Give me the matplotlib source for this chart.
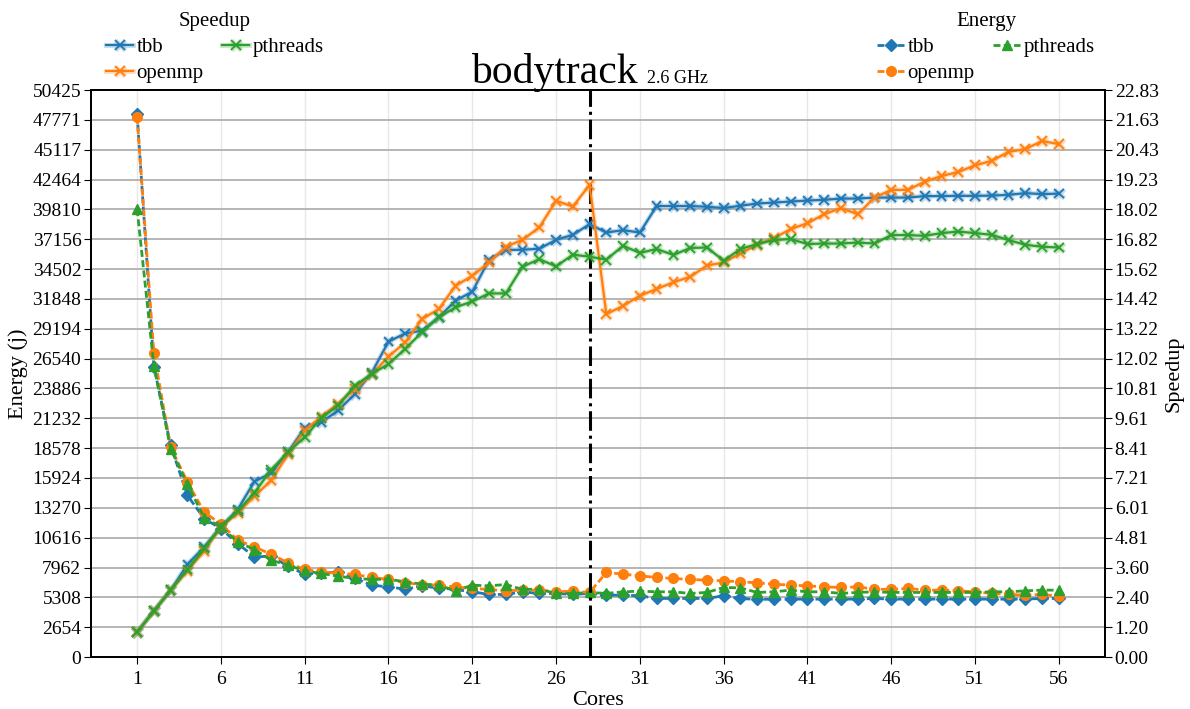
import numpy as np
import matplotlib
matplotlib.use("Agg")
import matplotlib.pyplot as plt
import matplotlib.patheffects as pe
from matplotlib.ticker import FixedLocator, FixedFormatter

plt.rcParams["font.family"] = ["Liberation Serif", "DejaVu Serif"]

cores = np.arange(1, 57)

# speedup per runtime (right axis)
speedup_tbb = [1.00, 1.87, 2.69, 3.73, 4.43, 5.24, 5.94, 7.07, 7.41, 8.25,
               9.23, 9.46, 9.93, 10.60, 11.45, 12.70, 13.03, 13.14, 13.68, 14.35,
               14.71, 16.00, 16.39, 16.40, 16.44, 16.80, 17.00, 17.43, 17.09, 17.19,
               17.09, 18.16, 18.16, 18.16, 18.13, 18.08, 18.17, 18.26, 18.30, 18.34,
               18.38, 18.41, 18.46, 18.46, 18.50, 18.50, 18.50, 18.56, 18.56, 18.57,
               18.57, 18.58, 18.61, 18.68, 18.64, 18.66]
speedup_openmp = [1.00, 1.85, 2.69, 3.47, 4.27, 5.24, 5.80, 6.48, 7.11, 8.16,
                  9.12, 9.69, 10.20, 10.80, 11.38, 12.10, 12.67, 13.61, 14.01, 14.95,
                  15.35, 15.89, 16.52, 16.80, 17.30, 18.37, 18.14, 19.01, 13.81, 14.14,
                  14.55, 14.82, 15.09, 15.31, 15.76, 15.89, 16.25, 16.60, 16.87, 17.23,
                  17.47, 17.83, 18.08, 17.83, 18.50, 18.81, 18.81, 19.14, 19.37, 19.53,
                  19.80, 19.98, 20.34, 20.45, 20.78, 20.65]
speedup_pthreads = [1.00, 1.85, 2.69, 3.52, 4.37, 5.24, 5.87, 6.62, 7.54, 8.25,
                    8.85, 9.63, 10.13, 10.93, 11.40, 11.80, 12.41, 13.08, 13.68, 14.08,
                    14.32, 14.64, 14.64, 15.72, 16.02, 15.73, 16.20, 16.12, 16.00, 16.56,
                    16.27, 16.43, 16.19, 16.47, 16.49, 15.96, 16.43, 16.63, 16.79, 16.83,
                    16.63, 16.65, 16.65, 16.69, 16.65, 16.99, 16.99, 16.96, 17.07, 17.13,
                    17.07, 17.00, 16.79, 16.60, 16.52, 16.49]

# energy per runtime in joules (left axis)
energy_tbb = [48270, 25835, 18820, 14380, 12310, 11425, 10095, 8905, 8970, 8080,
              7370, 7485, 7520, 6985, 6390, 6240, 6035, 6305, 6150, 6010,
              5800, 5565, 5565, 5800, 5655, 5655, 5565, 5655, 5505, 5505,
              5445, 5210, 5210, 5210, 5210, 5445, 5210, 5120, 5150, 5150,
              5150, 5150, 5150, 5150, 5210, 5150, 5150, 5150, 5150, 5150,
              5150, 5150, 5150, 5150, 5210, 5210]
energy_openmp = [48030, 27015, 18670, 15565, 12900, 11810, 10390, 9790, 9145, 8375,
                 7785, 7575, 7430, 7340, 7075, 6900, 6600, 6450, 6390, 6240,
                 6100, 6010, 5890, 5950, 5950, 5800, 5860, 5745, 7520, 7370,
                 7220, 7075, 6985, 6900, 6835, 6775, 6690, 6600, 6480, 6390,
                 6330, 6240, 6185, 6240, 6035, 6010, 6100, 5950, 5950, 5890,
                 5800, 5655, 5565, 5505, 5565, 5415]
energy_pthreads = [39835, 25925, 18530, 15360, 12400, 11570, 10240, 9560, 8610, 8170,
                   7660, 7430, 7190, 6985, 6900, 6925, 6690, 6480, 6390, 5890,
                   6390, 6330, 6450, 6010, 6035, 5655, 5655, 5745, 5655, 5800,
                   5860, 5800, 5800, 5655, 5745, 6185, 6150, 5745, 5800, 5950,
                   5800, 5800, 5655, 5745, 5800, 5745, 5745, 5745, 5745, 5745,
                   5745, 5800, 5800, 5890, 5950, 5950]

energy_ticklabels = ["0", "2654", "5308", "7962", "10616", "13270", "15924",
                     "18578", "21232", "23886", "26540", "29194", "31848",
                     "34502", "37156", "39810", "42464", "45117", "47771", "50425"]
speedup_ticklabels = ["0.00", "1.20", "2.40", "3.60", "4.81", "6.01", "7.21",
                      "8.41", "9.61", "10.81", "12.02", "13.22", "14.42", "15.62",
                      "16.82", "18.02", "19.23", "20.43", "21.63", "22.83"]

energy_max = 50425
speedup_max = 22.83
phys_cores = 28
colors = {"tbb": "tab:blue", "openmp": "tab:orange", "pthreads": "tab:green"}

fig = plt.figure(figsize=(11.9, 7.09), dpi=100)
ax = fig.add_axes([0.0765, 0.0733, 0.852, 0.7997])
ax2 = ax.twinx()

# energy: dashed with filled markers
e_handles = []
for name, vals, mk, ms in [("tbb", energy_tbb, "D", 6.5), ("openmp", energy_openmp, "o", 7),
                           ("pthreads", energy_pthreads, "^", 7.5)]:
    h, = ax.plot(cores, vals, linestyle="--", marker=mk, markersize=ms, lw=2,
                 dashes=(2.5, 1.2), color=colors[name], label=name)
    e_handles.append(h)

# speedup: solid with x markers and a soft halo
s_handles = []
for name, vals in [("tbb", speedup_tbb), ("openmp", speedup_openmp),
                   ("pthreads", speedup_pthreads)]:
    h, = ax2.plot(cores, vals, linestyle="-", marker="x", markersize=7, lw=1.6,
                  mew=1.3, color=colors[name], label=name,
                  path_effects=[pe.Stroke(linewidth=3.5, foreground=colors[name], alpha=0.25),
                                pe.Normal()])
    s_handles.append(h)

ax.axvline(phys_cores, color="black", linestyle="-.", lw=2.2)

ax.set_xlim(-1.75, 58.75)
ax.set_xticks(np.arange(1, 57, 5))
ax.set_ylim(0, energy_max)
ax2.set_ylim(0, speedup_max)
ax.yaxis.set_major_locator(FixedLocator(np.linspace(0, energy_max, 20)))
ax.yaxis.set_major_formatter(FixedFormatter(energy_ticklabels))
ax2.yaxis.set_major_locator(FixedLocator(np.linspace(0, speedup_max, 20)))
ax2.yaxis.set_major_formatter(FixedFormatter(speedup_ticklabels))

ax.grid(axis="y", color="#b0b0b0", lw=1.3)
ax.grid(axis="x", color="#e8e8e8", lw=1)
ax.set_axisbelow(True)

for a in (ax, ax2):
    a.tick_params(labelsize=14, length=5, pad=2)
    for s in a.spines.values():
        s.set_linewidth(1.3)
ax.tick_params(axis="x", pad=5)

ax.set_xlabel("Cores", fontsize=16, labelpad=2)
ax.set_ylabel("Energy (j)", fontsize=16, labelpad=3)
ax2.set_ylabel("Speedup", fontsize=16, labelpad=4)

base_y = 1 - 83 / 709
fig.text(554.5 / 1190, base_y, "bodytrack", fontsize=30, ha="center", va="baseline")
fig.text(647 / 1190, base_y, "2.6 GHz", fontsize=13, ha="left", va="baseline")

leg_kw = dict(ncol=2, frameon=False, fontsize=15, title_fontsize=15,
              handlelength=1.3, handletextpad=0.15, columnspacing=0.9,
              labelspacing=0.3, borderaxespad=0)
leg1 = fig.legend(handles=s_handles, title="Speedup", loc="upper center",
                  bbox_to_anchor=(215 / 1190, 1 - 4 / 709), **leg_kw)
leg2 = fig.legend(handles=e_handles, title="Energy", loc="upper center",
                  bbox_to_anchor=(986 / 1190, 1 - 4 / 709), **leg_kw)

fig.savefig("out.png", dpi=100)
